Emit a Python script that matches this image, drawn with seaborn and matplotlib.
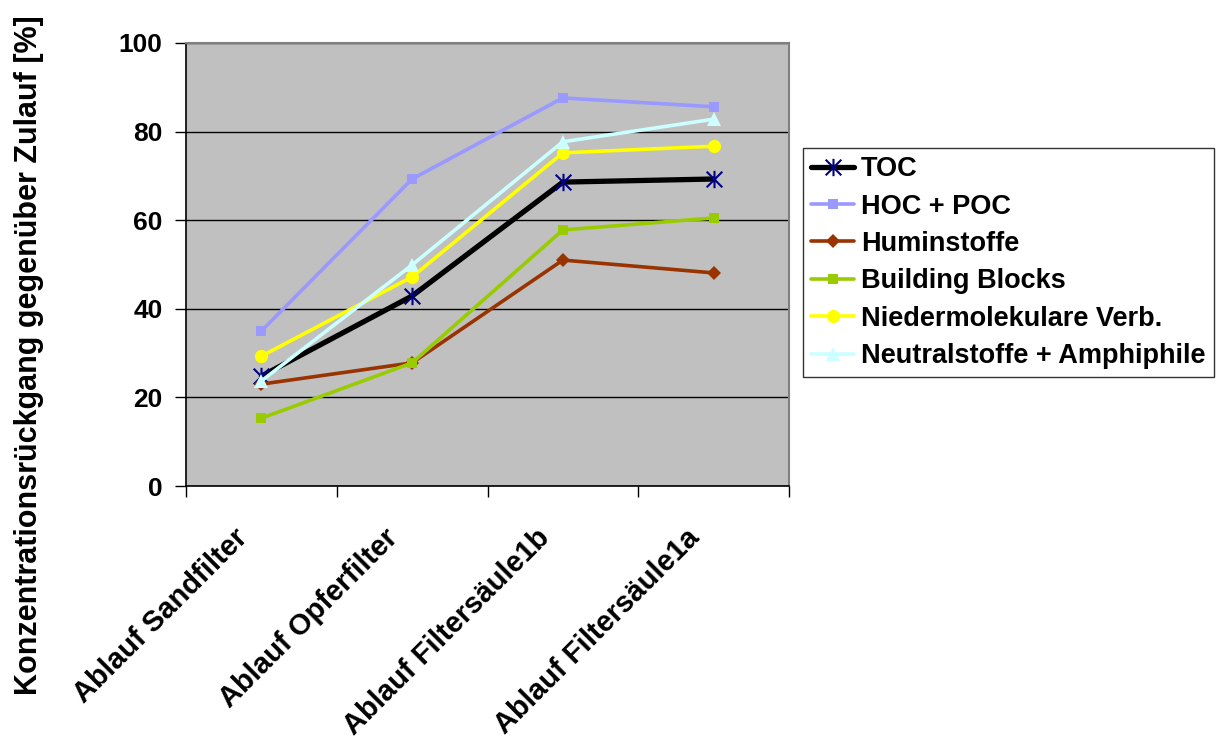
import matplotlib
matplotlib.use("Agg")
import matplotlib.pyplot as plt
import matplotlib.transforms as mtransforms
from matplotlib.path import Path
import seaborn as sns
import pandas as pd
from matplotlib.ticker import FixedLocator

categories = ["Ablauf Sandfilter", "Ablauf Opferfilter", "Ablauf Filtersäule1b", "Ablauf Filtersäule1a"]
toc = [24.8, 42.9, 68.6, 69.3]
hoc_poc = [35.0, 69.3, 87.6, 85.6]
huminstoffe = [23.0, 27.8, 51.0, 48.1]
building_blocks = [15.3, 27.8, 57.8, 60.5]
niedermolekulare = [29.3, 47.2, 75.2, 76.7]
neutralstoffe = [23.7, 49.9, 77.7, 82.8]
series_names = ["TOC", "HOC + POC", "Huminstoffe", "Building Blocks",
                "Niedermolekulare Verb.", "Neutralstoffe + Amphiphile"]
series_values = [toc, hoc_poc, huminstoffe, building_blocks, niedermolekulare, neutralstoffe]
y_ticks = [0, 20, 40, 60, 80, 100]

sns.set_style("white")
plt.rcParams["font.family"] = ["Liberation Sans", "DejaVu Sans"]
plt.rcParams["font.weight"] = "bold"
plt.rcParams["text.color"] = "black"
plt.rcParams["axes.labelcolor"] = "black"
plt.rcParams["xtick.color"] = "black"
plt.rcParams["ytick.color"] = "black"

star = Path([(0, -1), (0, 1), (-0.9, -0.9), (0.9, 0.9), (-0.9, 0.9), (0.9, -0.9)],
            [Path.MOVETO, Path.LINETO, Path.MOVETO, Path.LINETO, Path.MOVETO, Path.LINETO])

styles = {
    "TOC": dict(color="black", lw=3.8, marker=star, ms=12.5, mec="#000080", mfc="none", mew=1.5),
    "HOC + POC": dict(color="#9999FF", lw=2.6, marker="s", ms=7.8, mec="#9999FF", mfc="#9999FF", mew=0),
    "Huminstoffe": dict(color="#993300", lw=2.6, marker="D", ms=7.2, mec="#993300", mfc="#993300", mew=0),
    "Building Blocks": dict(color="#99CC00", lw=2.6, marker="s", ms=7.8, mec="#99CC00", mfc="#99CC00", mew=0),
    "Niedermolekulare Verb.": dict(color="#FFFF00", lw=2.6, marker="o", ms=9.5, mec="#FFFF00", mfc="#FFFF00", mew=0),
    "Neutralstoffe + Amphiphile": dict(color="#CCFFFF", lw=2.6, marker="^", ms=10, mec="#CCFFFF", mfc="#CCFFFF", mew=0),
}

fig = plt.figure(figsize=(12.18, 7.44), dpi=100)
ax = fig.add_axes([186 / 1218, 1 - 486 / 744, 603 / 1218, 443 / 744])
ax.set_facecolor("#C0C0C0")

for name, vals in zip(series_names, series_values):
    df = pd.DataFrame({"cat": categories, "val": vals})
    st = styles[name]
    sns.lineplot(data=df, x="cat", y="val", ax=ax, label=name, sort=False,
                 color=st["color"], linewidth=st["lw"], marker=st["marker"],
                 markersize=st["ms"], markeredgecolor=st["mec"],
                 markerfacecolor=st["mfc"], markeredgewidth=st["mew"], zorder=3)

ax.set_xlim(-0.5, 3.5)
ax.set_ylim(0, 100)
ax.set_yticks(y_ticks)
ax.yaxis.grid(True, color="black", lw=1.0)
ax.set_axisbelow(True)
ax.xaxis.set_minor_locator(FixedLocator([-0.5, 0.5, 1.5, 2.5, 3.5]))
ax.tick_params(axis="x", which="major", length=0, pad=34)
ax.tick_params(axis="x", which="minor", length=8, width=1, color="black", direction="out", bottom=True)
ax.tick_params(axis="y", length=8, width=1, color="black", direction="out", left=True,
               labelsize=19, pad=9)
ax.set_xticks(range(len(categories)))
ax.set_xticklabels(categories, rotation=45, ha="right", va="center", rotation_mode="anchor",
                   fontsize=21, fontweight="bold", color="black")
offset = mtransforms.ScaledTranslation(-18 / 100, 0, fig.dpi_scale_trans)
for lab in ax.get_xticklabels():
    lab.set_transform(lab.get_transform() + offset)
for lab in ax.get_yticklabels():
    lab.set_fontweight("bold")

ax.set_xlabel("")
ax.set_ylabel("Konzentrationsrückgang gegenüber Zulauf [%]", fontsize=22, fontweight="bold", color="black")
ax.yaxis.set_label_coords(-0.236, 0.296)

for side in ["left", "bottom"]:
    ax.spines[side].set_color("black")
    ax.spines[side].set_linewidth(1.2)
for side in ["top", "right"]:
    ax.spines[side].set_visible(True)
    ax.spines[side].set_color("#808080")
    ax.spines[side].set_linewidth(1.5)

leg = ax.legend(loc="upper left", bbox_to_anchor=(803 / 1218, 1 - 148 / 744),
                bbox_transform=fig.transFigure, frameon=True, fancybox=False,
                edgecolor="black", prop={"weight": "bold", "size": 19.5},
                handlelength=1.6, handletextpad=0.25, borderpad=0.3,
                labelspacing=0.42, borderaxespad=0)
leg.get_frame().set_linewidth(1.0)
for t in leg.get_texts():
    t.set_color("black")

fig.savefig("out.png", dpi=100, facecolor="white")
